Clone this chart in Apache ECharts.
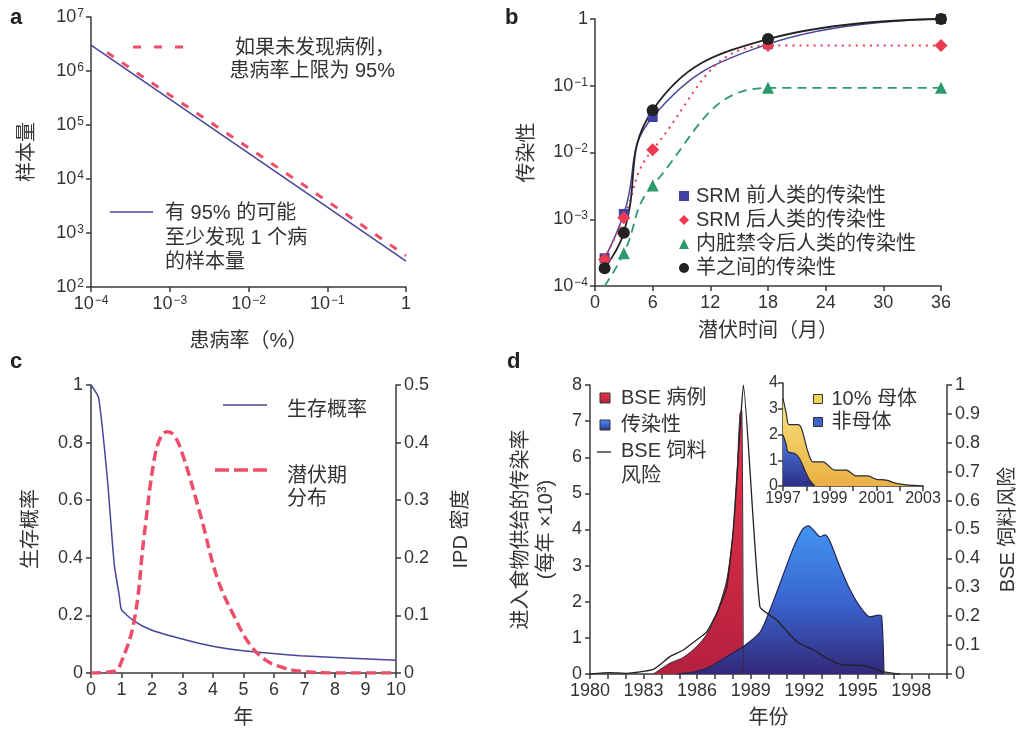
<!DOCTYPE html>
<html>
<head>
<meta charset="utf-8">
<script src="https://cdn.jsdelivr.net/npm/echarts@6/dist/echarts.min.js"></script>
<style>
html, body { margin: 0; padding: 0; background: #fff; }
#chart { width: 1026px; height: 730px; }
</style>
</head>
<body>
<div id="chart"></div>
<script>
// a: 样本量 vs 患病率
const aPrevalence = [1e-4, 1e-3, 1e-2, 1e-1, 1];
const aSampleSize = [3e6, 3e5, 3e4, 3e3, 300];
const aUpperPrevalence = [1.6e-4, 1e-3, 1e-2, 1e-1, 1];
const aUpperSize = [2.2e6, 3.6e5, 3.8e4, 3.9e3, 380];

// b: 传染性 vs 潜伏时间
const bMonths = [1, 3, 6, 18, 36];
const bPreSRM = [2.6e-4, 1.2e-3, 0.034, 0.42, 1];
const bPostSRM = [2.5e-4, 1.05e-3, 0.011, 0.4, 0.4];
const bOffalBan = [1e-4, 3.1e-4, 3.2e-3, 0.093, 0.093];
const bSheep = [1.85e-4, 6.3e-4, 0.043, 0.5, 1];

// c: 生存概率 / 潜伏期分布
const cSurvYears = [0, 0.25, 0.54, 0.76, 0.93, 1.0, 1.42, 1.96, 3.05, 4.03, 5.0, 6.86, 10];
const cSurvival = [1, 0.955, 0.67, 0.38, 0.266, 0.22, 0.18, 0.15, 0.116, 0.092, 0.077, 0.06, 0.044];
const cIpdYears = [0, 0.76, 0.98, 1.42, 1.74, 2.07, 2.29, 2.5, 2.72, 3.0, 3.6, 4.14, 4.68, 5.23, 5.77, 6.32, 6.86, 7.95, 10];
const cIpdDensity = [0, 0.003, 0.017, 0.092, 0.237, 0.37, 0.41, 0.419, 0.413, 0.38, 0.272, 0.165, 0.1, 0.048, 0.021, 0.009, 0.003, 0, 0];

// d: BSE 病例 / 传染性 / 饲料风险
const dCaseYears = [1983.55, 1984.48, 1985.23, 1985.98, 1986.54, 1987.1, 1987.66, 1988.03, 1988.22, 1988.4, 1988.5, 1988.59];
const dCases = [0, 0.3, 0.46, 0.76, 1.1, 1.68, 2.6, 3.99, 5.37, 7.2, 7.3, 0];
const dInfectYears = [1984.86, 1985.79, 1986.72, 1987.66, 1988.59, 1989.52, 1990.08, 1990.64, 1991.2, 1991.58, 1991.95, 1992.23, 1992.51, 1992.89, 1993.17, 1993.45, 1994.0, 1994.57, 1995.13, 1995.69, 1996.15, 1996.34, 1996.47];
const dInfectivity = [0, 0.05, 0.2, 0.48, 0.76, 1.15, 1.77, 2.5, 3.25, 3.7, 4.03, 4.1, 3.99, 3.8, 3.85, 3.66, 2.97, 2.33, 1.86, 1.58, 1.63, 1.6, 0];
const dRiskYears = [1980, 1981.1, 1982.05, 1983.55, 1984.48, 1985.23, 1985.98, 1986.54, 1987.1, 1987.66, 1988.03, 1988.4, 1988.59, 1989.52, 1990.46, 1991.58, 1992.51, 1993.26, 1994.19, 1995.13, 1995.87, 1996.43, 1997.37];
const dFeedRisk = [0, 0.005, 0.0025, 0.016, 0.06, 0.083, 0.118, 0.146, 0.21, 0.3, 0.5, 0.845, 1.0, 0.232, 0.187, 0.112, 0.083, 0.055, 0.031, 0.031, 0.02, 0.0075, 0];

// d 插图
const insetYears = [1997, 1997.14, 1997.26, 1997.64, 1997.79, 1998.07, 1998.29, 1998.71, 1999.21, 1999.71, 2000.14, 2000.64, 2001.0, 2001.43, 2001.86, 2002.29, 2003];
const insetMaternal = [3.4, 2.82, 2.38, 2.38, 2.24, 1.33, 0.94, 0.94, 0.62, 0.62, 0.39, 0.39, 0.26, 0.23, 0.1, 0.04, 0];
const insetNonYears = [1997, 1997.14, 1997.21, 1997.5, 1997.71, 1997.93, 1998.14, 1998.36];
const insetNonMaternal = [1.98, 1.6, 1.33, 1.26, 1.07, 0.62, 0.23, 0];

const FONT = "'Liberation Sans', 'Noto Sans CJK SC', sans-serif";
const AX = '#3a3a3a';
const TXT = '#333';
const BLUE_LINE = '#46469a';
const RED = '#ec4d68';
const TICK = 18;   // 刻度字号
const CJK = 20;    // 中文字号

const zip = (xs, ys) => xs.map((x, i) => [x, ys[i]]);

// 10 的幂次标签
const pow10 = v => {
  const e = Math.round(Math.log10(v));
  if (e === 0) return '1';
  return '10{s|' + (e < 0 ? '\u2212' + (-e) : e) + '}';
};
const supRich = { s: { fontSize: 12, fontFamily: FONT, color: TXT, verticalAlign: 'top', padding: [0, 0, 7, 1] } };

const axis = (opt) => {
  const o = Object.assign({
    nameLocation: 'middle',
    nameTextStyle: { color: TXT, fontSize: CJK, fontFamily: FONT },
    axisLine: { show: true, onZero: false, lineStyle: { color: AX, width: 1.5 } },
    axisTick: { show: true, length: 5, lineStyle: { color: AX, width: 1.5 } },
    splitLine: { show: false }
  }, opt);
  o.axisLabel = Object.assign({ color: TXT, fontSize: TICK, fontFamily: FONT, margin: 8, showMinLabel: true, showMaxLabel: true }, opt.axisLabel || {});
  return o;
};

const txt = (x, y, text, extra) => ({
  type: 'text', x, y, silent: true,
  style: Object.assign({ text, fill: TXT, font: CJK + 'px ' + FONT, align: 'left', verticalAlign: 'middle', lineHeight: 24 }, extra || {})
});
const seg = (x1, y1, x2, y2, stroke, lineWidth, lineDash) => ({
  type: 'line', silent: true,
  shape: { x1, y1, x2, y2 },
  style: { stroke, lineWidth, lineDash: lineDash || null }
});

const redFill = new echarts.graphic.LinearGradient(0, 0, 0, 1, [
  { offset: 0, color: '#ea3448' }, { offset: 1, color: '#b5203f' }
]);
const blueFill = new echarts.graphic.LinearGradient(0, 0, 0, 1, [
  { offset: 0, color: '#4293f2' }, { offset: 0.5, color: '#3a66d2' }, { offset: 1, color: '#33287a' }
]);
const yellowFill = new echarts.graphic.LinearGradient(0, 0, 0, 1, [
  { offset: 0, color: '#f8e47c' }, { offset: 1, color: '#eab044' }
]);
const blueInsetFill = new echarts.graphic.LinearGradient(0, 0, 0, 1, [
  { offset: 0, color: '#4a7fe6' }, { offset: 1, color: '#2e2f88' }
]);

const chart = echarts.init(document.getElementById('chart'), null, { renderer: 'canvas' });

chart.setOption({
  backgroundColor: '#fff',
  animation: false,
  textStyle: { fontFamily: FONT },
  grid: [
    { left: 91, top: 17, width: 315, height: 270 },
    { left: 595, top: 19, width: 346, height: 267 },
    { left: 91, top: 385, width: 305, height: 288 },
    { left: 590, top: 385, width: 357, height: 289 },
    { left: 783, top: 383, width: 140, height: 103 }
  ],
  xAxis: [
    axis({ gridIndex: 0, type: 'log', min: 1e-4, max: 1, name: '患病率（%）', nameGap: 44,
      axisLabel: { formatter: pow10, rich: supRich, margin: 8 } }),
    axis({ gridIndex: 1, type: 'value', min: 0, max: 36, interval: 6, name: '潜伏时间（月）', nameGap: 35 }),
    axis({ gridIndex: 2, type: 'value', min: 0, max: 10, interval: 1, name: '年', nameGap: 35 }),
    axis({ gridIndex: 3, type: 'value', min: 1980, max: 2000, interval: 1, name: '年份', nameGap: 34,
      axisLabel: { formatter: v => ((v - 1980) % 3 === 0 ? String(v) : ''), hideOverlap: false } }),
    axis({ gridIndex: 4, type: 'value', min: 1997, max: 2003, interval: 1,
      axisLabel: { fontSize: 16, margin: 5, formatter: v => ((v - 1997) % 2 === 0 ? String(v) : '') } })
  ],
  yAxis: [
    axis({ gridIndex: 0, type: 'log', min: 1e2, max: 1e7, name: '样本量', nameGap: 54, nameRotate: 90,
      axisLabel: { formatter: pow10, rich: supRich, margin: 7 } }),
    axis({ gridIndex: 1, type: 'log', min: 1e-4, max: 1, name: '传染性', nameGap: 58, nameRotate: 90,
      axisLabel: { formatter: pow10, rich: supRich, margin: 7 } }),
    axis({ gridIndex: 2, type: 'value', min: 0, max: 1, interval: 0.2, name: '生存概率', nameGap: 50, nameRotate: 90 }),
    axis({ gridIndex: 2, type: 'value', position: 'right', min: 0, max: 0.5, interval: 0.1, name: 'IPD 密度', nameGap: 55, nameRotate: 90 }),
    axis({ gridIndex: 3, type: 'value', min: 0, max: 8, interval: 1, name: '进入食物供给的传染率\n(每年 ×10³)', nameGap: 31, nameRotate: 90,
      nameTextStyle: { color: TXT, fontSize: CJK, fontFamily: FONT, lineHeight: 25 } }),
    axis({ gridIndex: 3, type: 'value', position: 'right', min: 0, max: 1, interval: 0.1, name: 'BSE 饲料风险', nameGap: 51, nameRotate: 90 }),
    axis({ gridIndex: 4, type: 'value', min: 0, max: 4, interval: 1, axisLabel: { fontSize: 16, margin: 5 } })
  ],
  legend: [
    {
      left: 674, top: 181, orient: 'vertical', itemGap: 4, itemWidth: 10, itemHeight: 10,
      textStyle: { color: TXT, fontSize: CJK, fontFamily: FONT, padding: [0, 0, 0, 2] },
      data: [
        { name: 'SRM 前人类的传染性', icon: 'rect' },
        { name: 'SRM 后人类的传染性', icon: 'diamond' },
        { name: '内脏禁令后人类的传染性', icon: 'triangle' },
        { name: '羊之间的传染性', icon: 'circle' }
      ]
    },
    {
      left: 808, top: 384, orient: 'vertical', itemGap: 3, itemWidth: 9, itemHeight: 9,
      textStyle: { color: TXT, fontSize: CJK, fontFamily: FONT, padding: [0, 0, 0, 4] },
      data: [
        { name: '10% 母体', icon: 'rect', itemStyle: { color: '#f2d35a', borderColor: '#333', borderWidth: 1 } },
        { name: '非母体', icon: 'rect', itemStyle: { color: '#3c63cf', borderColor: '#333', borderWidth: 1 } }
      ]
    }
  ],
  series: [
    // a
    { type: 'line', xAxisIndex: 0, yAxisIndex: 0, data: zip(aPrevalence, aSampleSize), symbol: 'none',
      lineStyle: { color: BLUE_LINE, width: 1.5 } },
    { type: 'line', xAxisIndex: 0, yAxisIndex: 0, data: zip(aUpperPrevalence, aUpperSize), symbol: 'none',
      lineStyle: { color: RED, width: 3, type: [8, 10] } },
    // b
    { name: 'SRM 前人类的传染性', type: 'line', xAxisIndex: 1, yAxisIndex: 1, data: zip(bMonths, bPreSRM), smooth: 0.45,
      symbol: 'rect', symbolSize: 10, itemStyle: { color: '#3f3fa6' }, lineStyle: { color: BLUE_LINE, width: 1.5 } },
    { name: 'SRM 后人类的传染性', type: 'line', xAxisIndex: 1, yAxisIndex: 1, data: zip(bMonths, bPostSRM), smooth: 0.45,
      symbol: 'diamond', symbolSize: 13, itemStyle: { color: '#ec3a50' }, lineStyle: { color: '#ec3a50', width: 2, type: [2, 5] } },
    { name: '内脏禁令后人类的传染性', type: 'line', xAxisIndex: 1, yAxisIndex: 1,
      data: zip(bMonths, bOffalBan).map((p, i) => (i === 0 ? { value: p, symbol: 'none' } : p)), smooth: 0.45,
      symbol: 'triangle', symbolSize: 12, itemStyle: { color: '#2c9a6c' }, lineStyle: { color: '#2c9a6c', width: 1.8, type: [9, 6] } },
    { name: '羊之间的传染性', type: 'line', xAxisIndex: 1, yAxisIndex: 1, data: zip(bMonths, bSheep), smooth: 0.45,
      symbol: 'circle', symbolSize: 12, itemStyle: { color: '#222' }, lineStyle: { color: '#222', width: 1.8 } },
    // c
    { type: 'line', xAxisIndex: 2, yAxisIndex: 2, data: zip(cSurvYears, cSurvival), symbol: 'none', smooth: 0.2,
      lineStyle: { color: BLUE_LINE, width: 1.5 } },
    { type: 'line', xAxisIndex: 2, yAxisIndex: 3, data: zip(cIpdYears, cIpdDensity), symbol: 'none', smooth: 0.4,
      lineStyle: { color: RED, width: 3.5, type: [10, 5] } },
    // d
    { type: 'line', xAxisIndex: 3, yAxisIndex: 4, data: zip(dCaseYears, dCases), symbol: 'none', smooth: 0.25,
      lineStyle: { color: '#3a2a40', width: 1 }, areaStyle: { color: redFill, opacity: 1 } },
    { type: 'line', xAxisIndex: 3, yAxisIndex: 4, data: zip(dInfectYears, dInfectivity), symbol: 'none', smooth: 0.25,
      lineStyle: { color: '#252550', width: 1.2 }, areaStyle: { color: blueFill, opacity: 1 } },
    { type: 'line', xAxisIndex: 3, yAxisIndex: 5, data: zip(dRiskYears, dFeedRisk), symbol: 'none', smooth: 0.15,
      lineStyle: { color: '#222', width: 1.3 } },
    // inset
    { name: '10% 母体', type: 'line', xAxisIndex: 4, yAxisIndex: 6, data: zip(insetYears, insetMaternal), symbol: 'none', smooth: 0.3,
      itemStyle: { color: '#f2d35a' }, lineStyle: { color: '#2a2a3a', width: 1.2 }, areaStyle: { color: yellowFill, opacity: 1 } },
    { name: '非母体', type: 'line', xAxisIndex: 4, yAxisIndex: 6, data: zip(insetNonYears, insetNonMaternal), symbol: 'none', smooth: 0.3,
      itemStyle: { color: '#3c63cf' }, lineStyle: { color: '#2a2a3a', width: 1.2 }, areaStyle: { color: blueInsetFill, opacity: 1 } }
  ],
  graphic: [
    // 面板字母
    txt(10, 18, 'a', { font: 'bold 22px ' + FONT, fill: '#222' }),
    txt(505, 18, 'b', { font: 'bold 22px ' + FONT, fill: '#222' }),
    txt(10, 362, 'c', { font: 'bold 22px ' + FONT, fill: '#222' }),
    txt(507, 362, 'd', { font: 'bold 22px ' + FONT, fill: '#222' }),
    // a 图例
    seg(133, 47, 186, 47, RED, 3, [8, 13]),
    txt(395, 60, '如果未发现病例，\n患病率上限为 95%', { align: 'right', lineHeight: 23 }),
    seg(110, 212, 153, 212, BLUE_LINE, 1.5),
    txt(165, 238, '有 95% 的可能\n至少发现 1 个病\n的样本量', { lineHeight: 24.5 }),
    // c 图例
    seg(223, 405, 267, 405, BLUE_LINE, 1.5),
    txt(287, 410, '生存概率'),
    seg(215, 470, 268, 470, RED, 3.5, [14, 5]),
    txt(287, 488, '潜伏期\n分布', { lineHeight: 23.5 }),
    // d 图例
    { type: 'rect', shape: { x: 600, y: 393, width: 10, height: 10 }, silent: true,
      style: { fill: redFill, stroke: '#333', lineWidth: 1 } },
    txt(621, 398, 'BSE 病例'),
    { type: 'rect', shape: { x: 600, y: 420, width: 10, height: 10 }, silent: true,
      style: { fill: blueFill, stroke: '#333', lineWidth: 1 } },
    txt(621, 425, '传染性'),
    seg(597, 452, 611, 452, '#222', 1.3),
    txt(621, 464, 'BSE 饲料\n风险', { lineHeight: 25 })
  ]
});
</script>
</body>
</html>
